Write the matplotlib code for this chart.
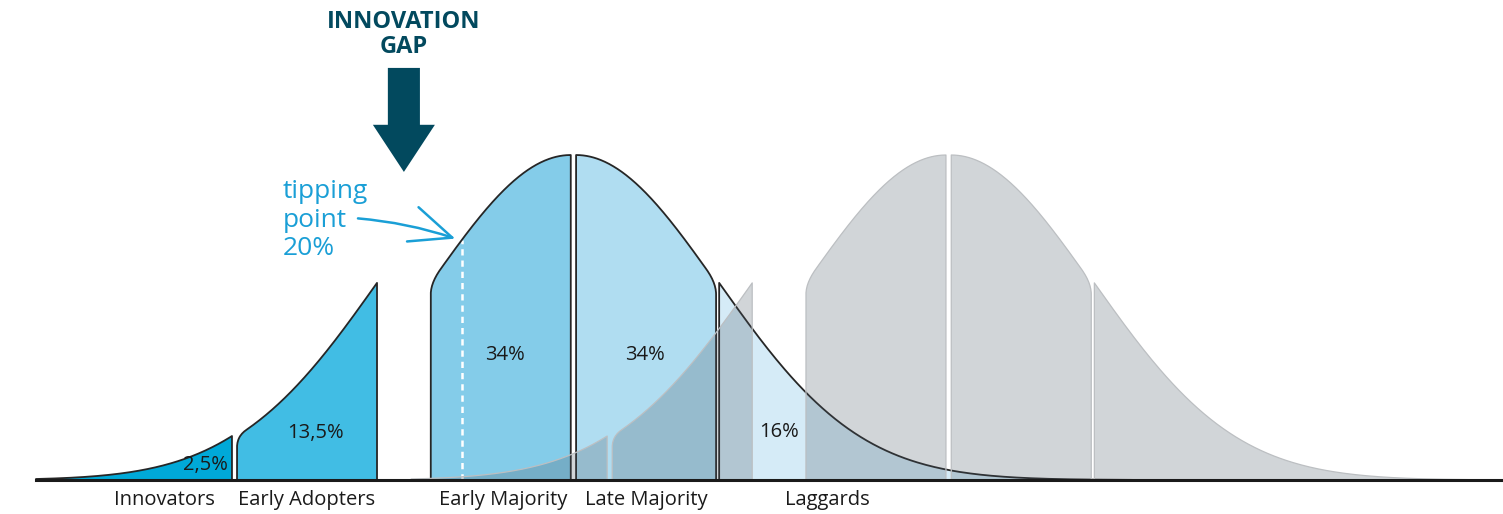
import numpy as np
import matplotlib
matplotlib.use("Agg")
import matplotlib.pyplot as plt
from matplotlib.patches import Polygon, FancyArrow, FancyArrowPatch

plt.rcParams['font.family'] = ['Open Sans', 'DejaVu Sans']

# adopter segments, bounds in standard deviations
names = ["Innovators", "Early Adopters", "Early Majority", "Late Majority", "Laggards"]
shares = ["2,5%", "13,5%", "34%", "34%", "16%"]
z_lo = [-3.4, -2.0, -1.0, 0.0, 1.0]
z_hi = [-2.0, -1.0, 0.0, 1.0, 4.0]
# horizontal shift of each segment (gaps + innovation gap)
shift = [0.0, 0.036, 0.42, 0.458, 0.48]
second_shift = 2.68
blues = ["#00a9d8", "#41bde4", "#84cce9", "#b0ddf1", "#d5ebf7"]
round_left = [False, True, True, False, False]
round_right = [False, False, False, True, False]
# where labels sit (in z units)
name_z = [-2.48, -1.5, -0.48, 0.5, 1.77]
share_z = [-2.19, -1.44, -0.47, 0.49, 1.43]
share_h = [0.046, 0.145, 0.385, 0.385, 0.148]
tipping_z = -0.78

def bell(z):
    return np.exp(-0.5 * z ** 2)

def segment(z0, z1, dx, rl, rr, rx=0.07, ry=0.035):
    zs = np.linspace(z0, z1, 200)
    pts = []
    if rl:
        t = np.linspace(0, 1, 15)
        p0 = np.array([z0, bell(z0) - ry]); p1 = np.array([z0, bell(z0)]); p2 = np.array([z0 + rx, bell(z0 + rx)])
        bez = [(1 - s) ** 2 * p0 + 2 * (1 - s) * s * p1 + s ** 2 * p2 for s in t]
        pts.append([z0, 0])
        pts += [list(b) for b in bez]
        zs = zs[zs > z0 + rx]
    else:
        pts.append([z0, 0])
    if rr:
        zs = zs[zs < z1 - rx]
    pts += [[z, bell(z)] for z in zs]
    if rr:
        t = np.linspace(0, 1, 15)
        p0 = np.array([z1 - rx, bell(z1 - rx)]); p1 = np.array([z1, bell(z1)]); p2 = np.array([z1, bell(z1) - ry])
        pts += [list((1 - s) ** 2 * p0 + 2 * (1 - s) * s * p1 + s ** 2 * p2) for s in t]
    pts.append([z1, 0])
    pts = np.array(pts)
    pts[:, 0] += dx
    return pts

fig = plt.figure(figsize=(15.03, 5.14), dpi=100)
ax = fig.add_axes([0, 0, 1, 1])
ax.set_xlim(-3.657, 7.079)
ax.set_ylim(-0.1046, 1.477)
ax.axis("off")

# first curve (blue)
for i in range(5):
    pts = segment(z_lo[i], z_hi[i], shift[i], round_left[i], round_right[i])
    ax.add_patch(Polygon(pts, closed=True, facecolor=blues[i], edgecolor="none", zorder=1))
    ax.plot(pts[:, 0], pts[:, 1], color="#262626", lw=1.3, zorder=3, solid_joinstyle="round")

# tipping point dashed line
ax.plot([tipping_z + shift[2]] * 2, [0, bell(tipping_z)], color="white", lw=1.8,
        ls=(0, (2.5, 2)), zorder=2)

# second curve (grey, translucent)
for i in range(5):
    pts = segment(z_lo[i], z_hi[i], shift[i] + second_shift, round_left[i], round_right[i])
    ax.add_patch(Polygon(pts, closed=True, facecolor="#4b5864", alpha=0.25, edgecolor="none", zorder=4))
    ax.plot(pts[:, 0], pts[:, 1], color="#bcbfc2", lw=0.9, zorder=4)

# baseline
ax.plot([-3.4, 7.079], [0, 0], color="#1a1a1a", lw=2.2, zorder=6)

# labels
for i in range(5):
    ax.text(name_z[i] + shift[i], -0.062, names[i], ha="center", va="center",
            fontsize=14.5, color="#1a1a1a")
    ax.text(share_z[i] + shift[i], share_h[i], shares[i], ha="center", va="center",
            fontsize=14.5, color="#1a1a1a", zorder=7)

# innovation gap arrow
gap_x = (z_hi[1] + shift[1] + z_lo[2] + shift[2]) / 2
ax.add_patch(FancyArrow(gap_x, 1.268, 0, -0.32, width=0.229, head_width=0.443,
                        head_length=0.145, length_includes_head=True,
                        color="#02495e", lw=0, zorder=7))
ax.text(gap_x, 1.37, "INNOVATION\nGAP", ha="center", va="center", fontsize=17,
        fontweight="bold", color="#02495e", linespacing=1.05)

# tipping point annotation
ax.text(-1.636, 0.8, "tipping\npoint\n20%", ha="left", va="center", fontsize=19,
        color="#1a9fd6", linespacing=1.18)
arr = FancyArrowPatch((-1.1, 0.805), (tipping_z + shift[2] - 0.045, bell(tipping_z) + 0.005),
                      connectionstyle="arc3,rad=-0.06", shrinkA=0, shrinkB=0,
                      arrowstyle="->,head_length=1.5,head_width=0.65", mutation_scale=20,
                      color="#1a9fd6", lw=1.8, zorder=7)
ax.add_patch(arr)

fig.savefig("out.png", dpi=100)
